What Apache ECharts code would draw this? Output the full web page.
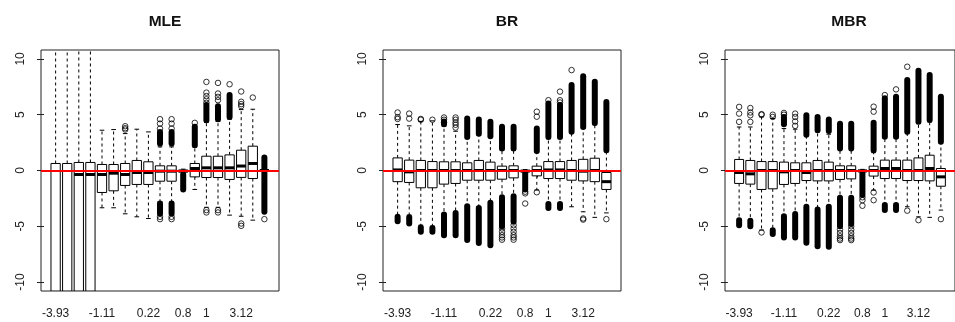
<!DOCTYPE html>
<html>
<head>
<meta charset="utf-8">
<script src="https://cdn.jsdelivr.net/npm/echarts@6/dist/echarts.min.js"></script>
<style>
  html, body { margin: 0; padding: 0; background: #fff; }
  #chart { width: 955px; height: 322px; }
</style>
</head>
<body>
<div id="chart"></div>
<script>
// ---------------- DATA ----------------
const panelTitles = ['MLE', 'BR', 'MBR'];
const boxPositions = [1, 2, 3, 4, 5, 6, 7, 8, 9, 10, 11, 12, 13, 14, 15, 16, 17, 18, 19];
const tickLabelPositions = [1, 5, 9, 12, 14, 17];
const tickLabelTexts = ['-3.93', '-1.11', '0.22', '0.8', '1', '3.12'];
const yTickValues = [-10, -5, 0, 5, 10];
const referenceValue = 0;

// box statistics per position: [lower whisker, Q1, median, Q3, upper whisker]
const mleStats = [
  [-25, -18, -12, 0.63, 25], [-25, -18, -12, 0.63, 25], [-25, -18, -0.36, 0.72, 25], [-25, -18, -0.36, 0.72, 25],
  [-3.34, -1.97, -0.36, 0.54, 3.61], [-3.34, -1.82, -0.24, 0.54, 3.67], [-3.88, -1.34, -0.36, 0.63, 3.31],
  [-4.15, -1.25, -0.18, 0.9, 3.7], [-4.3, -1.25, -0.18, 0.78, 3.46], [-2.8, -0.96, -0.06, 0.42, 2.12],
  [-2.8, -0.96, -0.06, 0.42, 2.12], [-0.25, -0.12, -0.05, 0.02, 0.12], [-1.7, -0.57, 0.18, 0.63, 2.1],
  [-3.3, -0.63, 0.24, 1.28, 4.3], [-3.3, -0.63, 0.24, 1.28, 4.4], [-4.0, -0.8, 0.24, 1.4, 4.6],
  [-4.1, -0.62, 0.4, 1.82, 5.46], [-4.45, -0.72, 0.63, 2.18, 5.49], [-0.05, -0.02, 0, 0.02, 0.05]
];
// isolated outliers per position
const mleOutliers = [
  [], [], [], [], [], [], [3.67, 3.79, 3.97], [], [],
  [3.76, 4.2, 4.6, -4.15, -4.36], [3.76, 4.2, 4.6, -4.15, -4.36], [], [4.27],
  [7.94, 6.98, 6.67, 6.38, 6.07, -3.55, -3.76], [7.85, 6.9, 6.6, 6.3, -3.55, -3.76], [7.73],
  [7.08, 6.16, 5.95, 5.77, -4.75, -4.96], [6.54], [-4.36]
];
// dense outlier runs per position: [from, to]
const mleDense = [
  [], [], [], [], [], [], [], [], [],
  [[2.42, 3.46], [-3.85, -2.96]], [[2.42, 3.46], [-3.85, -2.96]], [[-1.7, -0.35]], [[2.27, 3.91]],
  [[4.5, 5.87]], [[4.6, 5.75]], [[4.8, 6.76]], [], [], [[0.1, 1.16], [-3.7, -0.1]]
];

const brStats = [
  [-4.05, -1.0, 0.05, 1.13, 4.12], [-4.0, -1.07, -0.12, 0.93, 4.0], [-4.9, -1.55, 0.0, 0.9, 4.4],
  [-5.0, -1.55, 0.0, 0.8, 4.45], [-3.85, -1.22, 0.0, 0.78, 3.97], [-3.7, -1.16, 0.0, 0.78, 3.52],
  [-3.1, -0.87, 0.0, 0.69, 2.93], [-3.25, -0.87, 0.0, 0.9, 3.16], [-2.8, -0.87, 0.0, 0.75, 2.96],
  [-2.3, -0.78, 0.0, 0.39, 1.82], [-2.2, -0.66, 0.0, 0.42, 1.82], [-0.18, -0.1, -0.05, 0.0, 0.08],
  [-1.75, -0.48, 0.0, 0.39, 1.6], [-2.9, -0.72, 0.05, 0.8, 2.85], [-2.9, -0.72, 0.05, 0.8, 2.85],
  [-3.25, -0.87, 0.0, 0.9, 3.37], [-3.7, -0.93, -0.06, 1.0, 3.76], [-4.2, -1.0, 0.0, 1.1, 4.1],
  [-3.8, -1.7, -1.0, -0.18, 1.67]
];
const brOutliers = [
  [4.62, 4.78, 5.2], [4.65, 5.1], [4.55, 4.62], [4.55], [4.3, 4.55, 4.75], [3.85, 4.1, 4.3, 4.55, 4.75],
  [], [], [], [-5.2, -5.5, -5.8, -6.0, -6.2], [-4.9, -5.2, -5.5, -5.8, -6.0, -6.2], [-1.9, -2.05, -2.96],
  [4.82, 5.27, -1.95], [6.3], [6.1, 6.3, 7.07], [9.0], [-4.3, -4.4], [], [-4.36]
];
const brDense = [
  [[-4.55, -4.15]], [[-4.75, -4.2]], [[-5.5, -5.1]], [[-5.5, -5.15]], [[4.15, 4.4], [-5.8, -3.95]],
  [[-5.8, -3.8]], [[3.0, 4.66], [-6.24, -3.2]], [[3.3, 4.58], [-6.5, -3.35]], [[3.07, 4.37], [-6.7, -2.9]],
  [[1.98, 3.92], [-5.0, -2.4]], [[1.98, 3.92], [-4.6, -2.3]], [[-1.7, -0.25]], [[1.75, 3.77]],
  [[3.0, 6.0], [-3.35, -3.0]], [[3.0, 5.87], [-3.35, -3.0]], [[3.47, 7.66]], [[3.9, 8.45]],
  [[4.25, 7.95]], [[1.82, 6.15]]
];

const mbrStats = [
  [-4.3, -1.16, -0.18, 0.99, 3.9], [-4.45, -1.22, -0.3, 0.9, 3.9], [-5.34, -1.7, 0.0, 0.8, 4.8],
  [-5.2, -1.64, 0.0, 0.8, 4.66], [-4.0, -1.25, -0.12, 0.75, 3.76], [-3.85, -1.16, 0.0, 0.69, 3.7],
  [-3.2, -0.9, -0.18, 0.69, 3.1], [-3.4, -0.93, 0.0, 0.9, 3.46], [-3.2, -0.93, 0.0, 0.75, 3.25],
  [-2.36, -0.8, 0.0, 0.42, 1.9], [-2.36, -0.75, 0.0, 0.42, 1.9], [-0.15, -0.08, -0.04, 0.02, 0.1],
  [-1.76, -0.5, 0.0, 0.39, 1.6], [-2.96, -0.72, 0.18, 0.93, 2.9], [-2.96, -0.72, 0.18, 0.93, 2.9],
  [-3.25, -0.9, 0.0, 0.93, 3.3], [-4.15, -0.9, 0.0, 1.13, 4.2], [-4.2, -0.93, 0.18, 1.37, 4.36],
  [-3.55, -1.41, -0.57, 0.18, 2.45]
];
const mbrOutliers = [
  [4.36, 5.1, 5.7], [4.36, 4.95, 5.2, 5.6], [5.0, 5.05, -5.55], [4.8, 5.0], [5.0, 5.16],
  [4.0, 4.4, 4.8, 5.1], [], [], [], [-5.3, -5.6, -5.9, -6.1, -6.24], [-5.0, -5.3, -5.6, -5.9, -6.1, -6.24],
  [-2.4, -2.66, -3.16], [5.27, 5.72, -1.97, -2.66], [6.76], [7.27], [9.3, -3.6], [-4.45], [], [-4.36]
];
const mbrDense = [
  [[-4.9, -4.45]], [[-5.0, -4.5]], [], [[-5.7, -5.35]], [[4.15, 4.8], [-6.0, -4.1]], [[-6.0, -3.9]],
  [[3.2, 4.95], [-6.48, -3.25]], [[3.6, 4.8], [-6.78, -3.5]], [[3.55, 4.57], [-6.84, -3.25]],
  [[1.97, 4.2], [-5.0, -2.45]], [[1.97, 4.2], [-4.8, -2.45]], [[-2.2, -0.2]], [[1.82, 4.28]],
  [[3.02, 6.47], [-3.55, -3.1]], [[3.02, 6.61], [-3.55, -3.1]], [[3.47, 8.11]], [[4.37, 8.95]],
  [[4.52, 8.56]], [[2.57, 6.61]]
];

const panelStats = [mleStats, brStats, mbrStats];
const panelOutliers = [mleOutliers, brOutliers, mbrOutliers];
const panelDense = [mleDense, brDense, mbrDense];

// ---------------- LAYOUT ----------------
const FONT = '"Liberation Sans", Arial, sans-serif';
const frameLefts = [41, 383, 725];
const frameTop = 50, frameWidth = 238, frameHeight = 241;
const xMin = -0.26, xMax = 20.26, yMin = -10.8, yMax = 10.8;
const BOX_HALF = 0.4, STAPLE_HALF = 0.2;

function clampY(cs, py) { return Math.max(cs.y, Math.min(cs.y + cs.height, py)); }

function renderBox(params, api) {
  const cs = params.coordSys;
  const x = api.value(0);
  const lo = api.value(1), q1 = api.value(2), med = api.value(3), q3 = api.value(4), hi = api.value(5);
  const cx = api.coord([x, 0])[0];
  const xl = api.coord([x - BOX_HALF, 0])[0];
  const xr = api.coord([x + BOX_HALF, 0])[0];
  const sl = api.coord([x - STAPLE_HALF, 0])[0];
  const sr = api.coord([x + STAPLE_HALF, 0])[0];
  const Y = v => api.coord([x, v])[1];
  const inside = v => v >= yMin && v <= yMax;
  const yq1 = clampY(cs, Y(q1)), yq3 = clampY(cs, Y(q3));
  const ylo = clampY(cs, Y(lo)), yhi = clampY(cs, Y(hi));
  const children = [];
  const dash = { stroke: '#000', lineWidth: 1, lineDash: [3, 3] };
  children.push({ type: 'line', shape: { x1: cx, y1: yq3, x2: cx, y2: yhi }, style: dash });
  children.push({ type: 'line', shape: { x1: cx, y1: yq1, x2: cx, y2: ylo }, style: dash });
  if (inside(hi)) children.push({ type: 'line', shape: { x1: sl, y1: yhi, x2: sr, y2: yhi }, style: { stroke: '#000', lineWidth: 1 } });
  if (inside(lo)) children.push({ type: 'line', shape: { x1: sl, y1: ylo, x2: sr, y2: ylo }, style: { stroke: '#000', lineWidth: 1 } });
  children.push({ type: 'rect', shape: { x: xl, y: yq3, width: xr - xl, height: yq1 - yq3 },
    style: { fill: '#fff', stroke: '#000', lineWidth: 1 } });
  if (inside(med)) {
    const ym = Y(med);
    children.push({ type: 'line', shape: { x1: xl, y1: ym, x2: xr, y2: ym }, style: { stroke: '#000', lineWidth: 3 } });
  }
  return { type: 'group', children };
}

function renderDense(params, api) {
  const x = api.value(0);
  const p1 = api.coord([x, api.value(1)]);
  const p2 = api.coord([x, api.value(2)]);
  return { type: 'line', shape: { x1: p1[0], y1: p1[1], x2: p2[0], y2: p2[1] },
    style: { stroke: '#000', lineWidth: 6, lineCap: 'round' } };
}

const grids = [], xAxes = [], yAxes = [], series = [], titles = [];
panelTitles.forEach((name, i) => {
  grids.push({ left: frameLefts[i], top: frameTop, width: frameWidth, height: frameHeight,
    show: true, borderColor: '#222', borderWidth: 1, backgroundColor: 'transparent' });
  titles.push({ text: name, left: frameLefts[i] + frameWidth / 2, top: 9, textAlign: 'center',
    textStyle: { fontFamily: FONT, fontSize: 15.5, fontWeight: 'bold', color: '#111' } });
  xAxes.push({ gridIndex: i, type: 'value', min: xMin, max: xMax,
    axisLine: { show: false }, splitLine: { show: false },
    axisTick: { show: true, length: 7, customValues: boxPositions, lineStyle: { color: '#222', width: 1 } },
    axisLabel: { show: true, customValues: tickLabelPositions, margin: 17,
      formatter: v => { const k = tickLabelPositions.indexOf(v); return k >= 0 ? tickLabelTexts[k] : ''; },
      fontFamily: FONT, fontSize: 12, color: '#222' } });
  yAxes.push({ gridIndex: i, type: 'value', min: yMin, max: yMax,
    axisLine: { show: false }, splitLine: { show: false },
    axisTick: { show: true, length: 7, customValues: yTickValues, lineStyle: { color: '#222', width: 1 } },
    axisLabel: { show: true, customValues: yTickValues, rotate: 90, margin: 14,
      fontFamily: FONT, fontSize: 12, color: '#222' } });

  const boxData = boxPositions.map((p, k) => [p].concat(panelStats[i][k]));
  const denseData = [];
  const outData = [];
  boxPositions.forEach((p, k) => {
    panelDense[i][k].forEach(r => denseData.push([p, r[0], r[1]]));
    panelOutliers[i][k].forEach(v => outData.push([p, v]));
  });
  series.push({ type: 'custom', name: name + ' boxes', xAxisIndex: i, yAxisIndex: i, z: 2,
    renderItem: renderBox, data: boxData, encode: { x: 0, y: [1, 2, 3, 4, 5] }, silent: true, clip: true });
  series.push({ type: 'custom', name: name + ' dense outliers', xAxisIndex: i, yAxisIndex: i, z: 3,
    renderItem: renderDense, data: denseData, encode: { x: 0, y: [1, 2] }, silent: true, clip: true });
  series.push({ type: 'scatter', name: name + ' outliers', xAxisIndex: i, yAxisIndex: i, z: 4,
    data: outData, symbol: 'circle', symbolSize: 5.5, silent: true,
    itemStyle: { color: 'rgba(0,0,0,0)', borderColor: '#000', borderWidth: 1 },
    markLine: { silent: true, symbol: 'none', animation: false,
      label: { show: false }, lineStyle: { color: '#ff0000', width: 2, type: 'solid' },
      data: [{ yAxis: referenceValue }] } });
});

const chart = echarts.init(document.getElementById('chart'), null, { renderer: 'canvas' });
chart.setOption({
  animation: false,
  backgroundColor: '#fff',
  title: titles,
  grid: grids,
  xAxis: xAxes,
  yAxis: yAxes,
  series: series
});
</script>
</body>
</html>
